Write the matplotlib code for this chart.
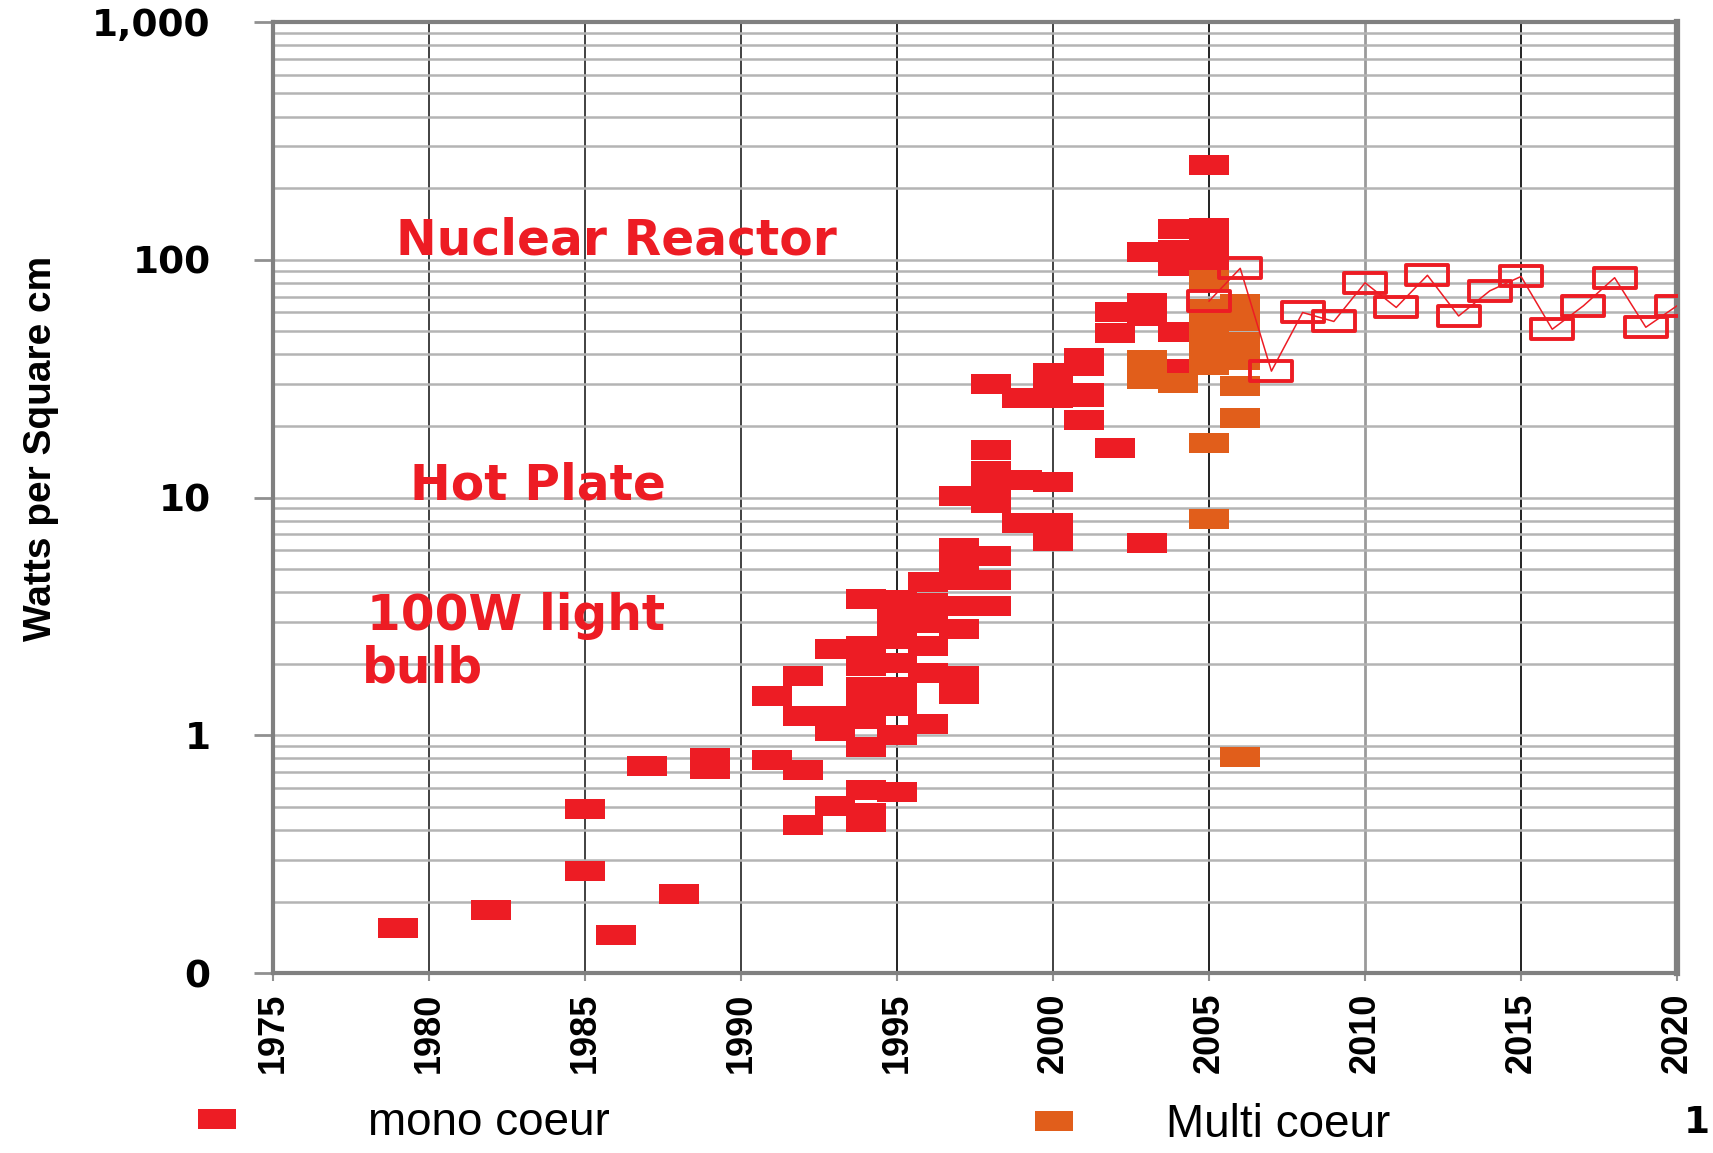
import matplotlib
matplotlib.use('Agg')
import matplotlib.pyplot as plt
from matplotlib.path import Path
from matplotlib.lines import Line2D
from matplotlib.ticker import FixedLocator, NullFormatter, LogLocator

# single core chips (red filled)
mono_years = [1979, 1982, 1985, 1985, 1986, 1987, 1988, 1989, 1989,
              1991, 1991, 1992, 1992, 1992, 1992,
              1993, 1993, 1993, 1993,
              1994, 1994, 1994, 1994, 1994, 1994, 1994, 1994, 1994, 1994,
              1995, 1995, 1995, 1995, 1995, 1995, 1995, 1995,
              1996, 1996, 1996, 1996, 1996, 1996,
              1997, 1997, 1997, 1997, 1997, 1997, 1997, 1997,
              1998, 1998, 1998, 1998, 1998, 1998, 1998, 1998,
              1999, 1999, 1999,
              2000, 2000, 2000, 2000, 2000, 2000,
              2001, 2001, 2001, 2001, 2001,
              2002, 2002, 2002,
              2003, 2003, 2003, 2003,
              2004, 2004, 2004, 2004, 2004,
              2005, 2005, 2005, 2005]
mono_watts = [0.155, 0.185, 0.49, 0.27, 0.145, 0.74, 0.215, 0.72, 0.80,
              0.79, 1.47, 0.715, 0.42, 1.78, 1.21,
              0.505, 2.3, 1.2, 1.04,
              0.59, 0.47, 0.43, 0.89, 1.17, 1.42, 1.6, 1.95, 2.37, 3.76,
              0.575, 1.0, 1.33, 1.6, 2.02, 2.54, 3.07, 3.7,
              1.12, 1.83, 2.37, 2.97, 3.6, 4.4,
              1.49, 1.78, 2.8, 3.5, 4.5, 5.4, 6.15, 10.1,
              3.5, 4.5, 5.67, 9.5, 11.2, 12.9, 15.8, 30,
              7.8, 11.9, 26.2,
              6.55, 7.8, 11.6, 26.2, 29, 33.4,
              21.1, 26.5, 35.6, 38.6, 27.5,
              16.2, 49.2, 60,
              6.45, 57.8, 65.8, 108,
              34.6, 49.5, 94, 110, 134,
              94, 114, 136, 251]

# multi core chips (orange filled)
multi_years = [2003, 2003, 2004,
               2005, 2005, 2005, 2005, 2005, 2005, 2005,
               2006, 2006, 2006, 2006, 2006, 2006, 2006]
multi_watts = [38, 31.5, 30.3,
               82, 62, 52, 43, 36, 16.9, 8.1,
               65, 55, 45, 38, 29.4, 21.6, 0.81]

# projection (open squares with thin line)
trend_years = list(range(2005, 2021))
trend_watts = [67, 92, 34, 60, 55, 80, 63, 86, 58, 74, 85, 51, 64, 84, 52, 64]

year_ticks = list(range(1975, 2021, 5))
watt_ticks = [0.1, 1, 10, 100, 1000]
watt_labels = ['0', '1', '10', '100', '1,000']

RED = '#ED1C24'
ORANGE = '#E15E1B'

# excel style flat rectangle marker
rect = Path([(-1, -0.5), (1, -0.5), (1, 0.5), (-1, 0.5), (-1, -0.5)], closed=True)

fig = plt.figure(figsize=(17.13, 11.53), dpi=100)
ax = fig.add_axes([0.1594, 0.156, 0.8196, 0.825])

ax.plot(mono_years, mono_watts, ls='none', marker=rect, ms=29, mew=0,
        mfc=RED, zorder=3)
ax.plot(multi_years, multi_watts, ls='none', marker=rect, ms=29, mew=0,
        mfc=ORANGE, zorder=4)
ax.plot(trend_years, trend_watts, color=RED, lw=1.1, marker=rect, ms=30,
        mfc='none', mec=RED, mew=2.8, zorder=5)

ax.set_yscale('log')
ax.set_xlim(1975, 2020)
ax.set_ylim(0.1, 1000)

ax.xaxis.set_major_locator(FixedLocator(year_ticks))
ax.yaxis.set_major_locator(FixedLocator(watt_ticks))
ax.yaxis.set_minor_locator(LogLocator(base=10, subs=range(2, 10)))
ax.yaxis.set_minor_formatter(NullFormatter())
ax.set_yticklabels(watt_labels)
ax.set_xticklabels([str(y) for y in year_ticks], rotation=90)

ax.grid(True, axis='y', which='both', color='#B4B4B4', lw=1.8, zorder=0)
ax.grid(True, axis='x', which='major', color='#333333', lw=1.3, zorder=0)
for yr, gl in zip(year_ticks, ax.get_xgridlines()):
    if yr in (1995, 2005, 2015):
        gl.set_color('#111111')
    elif yr == 2010:
        gl.set_color('#9A9A9A')
        gl.set_linewidth(2)
ax.set_axisbelow(True)

for side in ['left', 'right', 'top', 'bottom']:
    ax.spines[side].set_color('#808080')
    ax.spines[side].set_linewidth(3)
ax.spines['right'].set_linewidth(4.5)

ax.tick_params(axis='y', which='major', length=14, width=2, color='#909090', pad=31)
ax.tick_params(axis='y', which='minor', length=0)
ax.tick_params(axis='x', which='major', length=6, width=1.5, color='#909090', pad=8)
for lab in ax.get_yticklabels():
    lab.set_fontfamily('DejaVu Sans')
    lab.set_fontweight('bold')
    lab.set_fontsize(27)
for lab in ax.get_xticklabels():
    lab.set_fontfamily(['Liberation Sans', 'DejaVu Sans'])
    lab.set_fontweight('bold')
    lab.set_fontsize(26)

fig.text(0.0237, 0.611, 'Watts per Square cm', rotation=90, ha='center', va='center',
         fontsize=28, fontweight='bold', family=['Liberation Sans', 'DejaVu Sans'])

# annotations
ann = dict(color=RED, fontweight='bold', fontsize=35, family='DejaVu Sans',
           ha='center', va='center')
ax.text(1986.0, 121, 'Nuclear Reactor', **ann)
ax.text(1983.5, 11.2, 'Hot Plate', **ann)
ax.text(1982.8, 3.16, '100W light', **ann)
ax.text(1979.8, 1.91, 'bulb', **ann)

# legend, one entry per block
leg_font = {'family': ['Liberation Sans', 'DejaVu Sans'], 'size': 33}
h1 = Line2D([], [], ls='none', marker=rect, ms=28, mew=0, mfc=RED)
h2 = Line2D([], [], ls='none', marker=rect, ms=28, mew=0, mfc=ORANGE)
fig.legend(handles=[h1], labels=['mono coeur'], loc='center left',
           bbox_to_anchor=(0.1134, 0.026), frameon=False, borderpad=0,
           borderaxespad=0, handlelength=1.0, handletextpad=2.8, prop=leg_font)
fig.legend(handles=[h2], labels=['Multi coeur'], loc='center left',
           bbox_to_anchor=(0.602, 0.024), frameon=False, borderpad=0,
           borderaxespad=0, handlelength=1.0, handletextpad=1.95, prop=leg_font)

fig.text(0.998, 0.026, '1', fontsize=27, fontweight='bold', ha='right', va='center')

fig.savefig('out.png', dpi=100)
